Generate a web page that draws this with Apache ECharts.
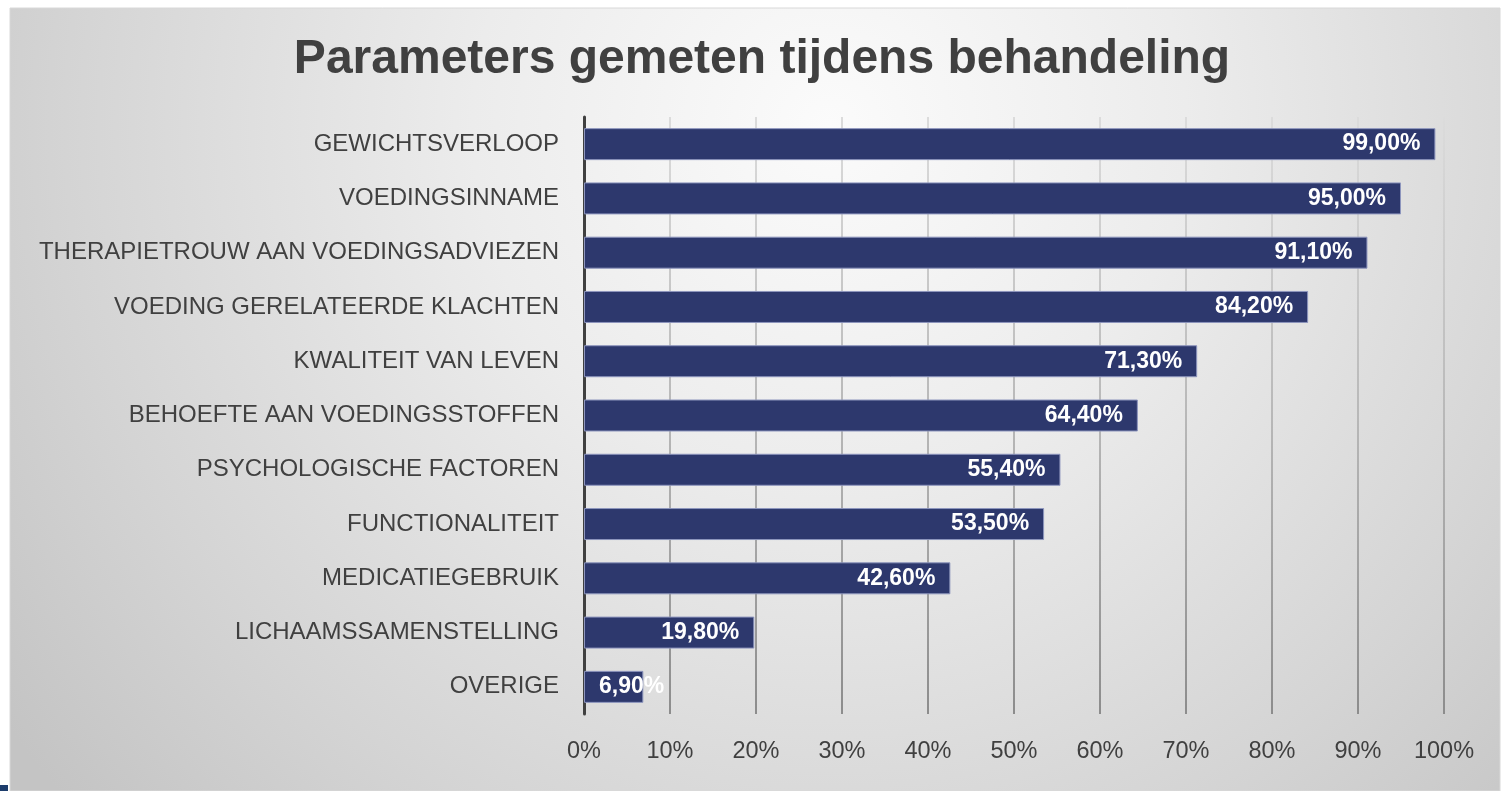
<!DOCTYPE html>
<html>
<head>
<meta charset="utf-8">
<script src="https://cdn.jsdelivr.net/npm/echarts@6/dist/echarts.min.js"></script>
<style>
html,body{margin:0;padding:0;background:#ffffff;}
#chart{width:1506px;height:791px;}
</style>
</head>
<body>
<div id="chart"></div>
<script>
const titleText = 'Parameters gemeten tijdens behandeling';
const categories = [
  'GEWICHTSVERLOOP',
  'VOEDINGSINNAME',
  'THERAPIETROUW AAN VOEDINGSADVIEZEN',
  'VOEDING GERELATEERDE KLACHTEN',
  'KWALITEIT VAN LEVEN',
  'BEHOEFTE AAN VOEDINGSSTOFFEN',
  'PSYCHOLOGISCHE FACTOREN',
  'FUNCTIONALITEIT',
  'MEDICATIEGEBRUIK',
  'LICHAAMSSAMENSTELLING',
  'OVERIGE'
];
const values = [99.0, 95.0, 91.1, 84.2, 71.3, 64.4, 55.4, 53.5, 42.6, 19.8, 6.9];
const axisMin = 0, axisMax = 100, axisStep = 10;

const chart = echarts.init(document.getElementById('chart'), null, {renderer: 'canvas'});

const seriesData = values.map(v => ({
  value: v,
  label: v < 10 ? {position: 'insideLeft'} : {}
}));

chart.setOption({
  animation: false,
  graphic: [
    {
      type: 'rect', z: -10, silent: true,
      shape: {x: 10, y: 8, width: 1490, height: 783},
      style: {
        fill: new echarts.graphic.RadialGradient(0.55, 0.15, 1.3, [
          {offset: 0, color: '#fbfbfb'},
          {offset: 0.35, color: '#ececec'},
          {offset: 0.75, color: '#d4d4d4'},
          {offset: 1, color: '#c4c4c4'}
        ]),
        stroke: '#d8d8d8', lineWidth: 1
      }
    },
    {
      type: 'rect', z: -5, silent: true,
      shape: {x: 0, y: 785, width: 8, height: 6},
      style: {fill: '#1d3d6c'}
    }
  ],
  title: {
    text: titleText,
    left: 757,
    textAlign: 'center',
    top: 31,
    textStyle: {
      fontFamily: 'Liberation Sans, Arial, sans-serif',
      fontSize: 48,
      fontWeight: 'bold',
      color: '#404040'
    }
  },
  grid: {left: 584, right: 62, top: 117, bottom: 77, containLabel: false},
  xAxis: {
    type: 'value',
    min: axisMin, max: axisMax, interval: axisStep,
    axisLine: {show: false},
    axisTick: {show: false},
    axisLabel: {
      formatter: '{value}%',
      margin: 26,
      fontFamily: 'Liberation Sans, Arial, sans-serif',
      fontSize: 23.5,
      color: '#404040'
    },
    splitLine: {
      show: true,
      lineStyle: {
        width: 2,
        color: new echarts.graphic.LinearGradient(0, 0, 0, 1, [
          {offset: 0, color: '#dcdcdc'},
          {offset: 0.5, color: '#b8b8b8'},
          {offset: 1, color: '#8c8c8c'}
        ])
      }
    }
  },
  yAxis: {
    type: 'category',
    data: categories,
    inverse: true,
    axisLine: {show: true, lineStyle: {color: '#404040', width: 3}},
    axisTick: {show: false},
    axisLabel: {
      margin: 25,
      fontFamily: 'Liberation Sans, Arial, sans-serif',
      fontSize: 24,
      color: '#404040'
    },
    splitLine: {show: false}
  },
  series: [{
    type: 'bar',
    data: seriesData,
    barWidth: 32,
    itemStyle: {
      color: '#2d386d',
      borderColor: '#8d95bd',
      borderWidth: 1
    },
    label: {
      show: true,
      position: 'insideRight',
      distance: 15,
      formatter: p => p.value.toFixed(2).replace('.', ',') + '%',
      fontFamily: 'Liberation Sans, Arial, sans-serif',
      fontSize: 23,
      fontWeight: 'bold',
      color: '#ffffff'
    }
  }]
});
</script>
</body>
</html>
